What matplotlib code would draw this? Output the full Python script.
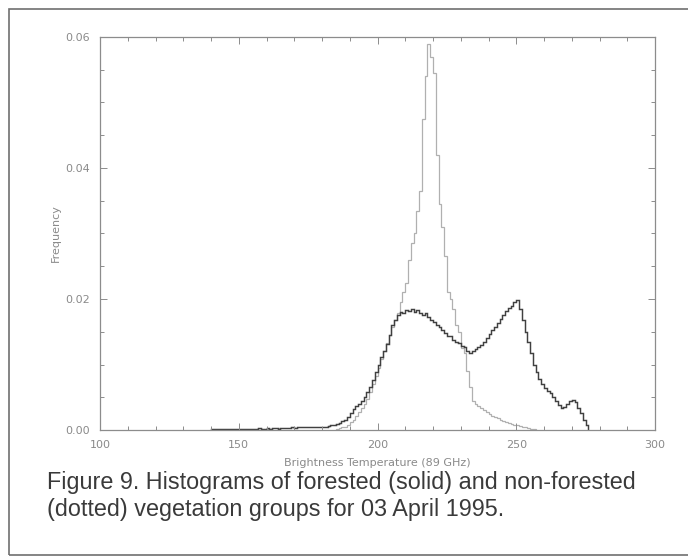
import numpy as np
import matplotlib
matplotlib.use('Agg')
import matplotlib.pyplot as plt
from matplotlib.patches import Rectangle
from matplotlib.ticker import MultipleLocator

# 산림(solid) 히스토그램: 1 K 구간 시작값과 빈도
forest_start = 140
forest_freq = [
    0.0001, 0.0001, 0.0001, 0.0001, 0.0001, 0.0001, 0.0001, 0.0001, 0.0001, 0.0001,   # 140-149
    0.0002, 0.0001, 0.0002, 0.0002, 0.0001, 0.0002, 0.0002, 0.0003, 0.0002, 0.0002,   # 150-159
    0.0003, 0.0002, 0.0003, 0.0003, 0.0002, 0.0003, 0.0003, 0.0003, 0.0003, 0.0004,   # 160-169
    0.0003, 0.0004, 0.0004, 0.0004, 0.0004, 0.0005, 0.0004, 0.0005, 0.0005, 0.0005,   # 170-179
    0.0005, 0.0005, 0.0006, 0.0007, 0.0008, 0.0009, 0.0010, 0.0013, 0.0016, 0.0020,   # 180-189
    0.0026, 0.0032, 0.0036, 0.0040, 0.0044, 0.0050, 0.0058, 0.0065, 0.0076, 0.0088,   # 190-199
    0.0100, 0.0111, 0.0120, 0.0131, 0.0145, 0.0160, 0.0168, 0.0176, 0.0180, 0.0179,   # 200-209
    0.0183, 0.0181, 0.0184, 0.0180, 0.0183, 0.0178, 0.0176, 0.0179, 0.0172, 0.0168,   # 210-219
    0.0165, 0.0160, 0.0157, 0.0152, 0.0148, 0.0143, 0.0144, 0.0138, 0.0134, 0.0133,   # 220-229
    0.0128, 0.0126, 0.0120, 0.0118, 0.0121, 0.0124, 0.0126, 0.0130, 0.0134, 0.0140,   # 230-239
    0.0146, 0.0152, 0.0157, 0.0163, 0.0170, 0.0175, 0.0181, 0.0186, 0.0189, 0.0196,   # 240-249
    0.0198, 0.0185, 0.0168, 0.0150, 0.0135, 0.0118, 0.0100, 0.0088, 0.0078, 0.0070,   # 250-259
    0.0064, 0.0060, 0.0056, 0.0050, 0.0045, 0.0038, 0.0033, 0.0035, 0.0040, 0.0044,   # 260-269
    0.0046, 0.0042, 0.0034, 0.0026, 0.0016, 0.0007,                                   # 270-275
]

# 비산림(dotted) 히스토그램
nonforest_start = 185
nonforest_freq = [
    0.0002, 0.0003, 0.0004, 0.0005, 0.0007,                                           # 185-189
    0.0012, 0.0016, 0.0022, 0.0028, 0.0034, 0.0040, 0.0047, 0.0058, 0.0070, 0.0082,   # 190-199
    0.0095, 0.0108, 0.0120, 0.0133, 0.0145, 0.0158, 0.0168, 0.0178, 0.0195, 0.0210,   # 200-209
    0.0225, 0.0260, 0.0285, 0.0300, 0.0335, 0.0365, 0.0475, 0.0540, 0.0590, 0.0570,   # 210-219
    0.0545, 0.0420, 0.0345, 0.0310, 0.0265, 0.0210, 0.0200, 0.0185, 0.0160, 0.0150,   # 220-229
    0.0125, 0.0118, 0.0090, 0.0065, 0.0045, 0.0040, 0.0036, 0.0033, 0.0030, 0.0027,   # 230-239
    0.0024, 0.0022, 0.0020, 0.0018, 0.0016, 0.0014, 0.0012, 0.0010, 0.0009, 0.0008,   # 240-249
    0.0007, 0.0006, 0.0005, 0.0004, 0.0003, 0.0002, 0.0001,                           # 250-256
]

x_ticks = [100, 150, 200, 250, 300]
y_ticks = [0.00, 0.02, 0.04, 0.06]
caption = ("Figure 9. Histograms of forested (solid) and non-forested\n"
           "(dotted) vegetation groups for 03 April 1995.")

axis_gray = '#8c8c8c'

fig = plt.figure(figsize=(6.88, 5.59), dpi=100)

# 바깥 테두리
fig.patches.append(Rectangle((9 / 688, 4 / 559), 1.0, 546 / 559, transform=fig.transFigure,
                             fill=False, edgecolor='#707070', linewidth=1.2))

ax = fig.add_axes([100 / 688, 1 - 430 / 559, 555 / 688, 393 / 559])

edges_f = np.arange(forest_start, forest_start + len(forest_freq) + 1)
edges_n = np.arange(nonforest_start, nonforest_start + len(nonforest_freq) + 1)
ax.stairs(nonforest_freq, edges_n, color='#b0b0b0', linewidth=0.9)
ax.stairs(forest_freq, edges_f, color='#404040', linewidth=1.05)

ax.set_xlim(100, 300)
ax.set_ylim(0, 0.06)
ax.set_xticks(x_ticks)
ax.set_xticklabels([str(t) for t in x_ticks])
ax.set_yticks(y_ticks)
ax.set_yticklabels(['%.2f' % t for t in y_ticks])
ax.xaxis.set_minor_locator(MultipleLocator(10))
ax.yaxis.set_minor_locator(MultipleLocator(0.005))
ax.tick_params(which='both', direction='in', top=True, right=True, colors=axis_gray,
               labelsize=8, labelcolor='#8a8a8a', width=0.7)
ax.tick_params(which='major', length=5, pad=7)
ax.tick_params(which='minor', length=3)
for s in ax.spines.values():
    s.set_color(axis_gray)
    s.set_linewidth(0.9)

ax.set_xlabel('Brightness Temperature (89 GHz)', fontsize=8, color='#8a8a8a', labelpad=6)
ax.set_ylabel('Frequency', fontsize=8, color='#8a8a8a', labelpad=3)

fig.text(47 / 688, 1 - 471 / 559, caption, fontsize=16.8, family='Liberation Sans',
         color='#3a3a3a', va='top', ha='left', linespacing=1.2)

fig.savefig('out.png', dpi=100)
